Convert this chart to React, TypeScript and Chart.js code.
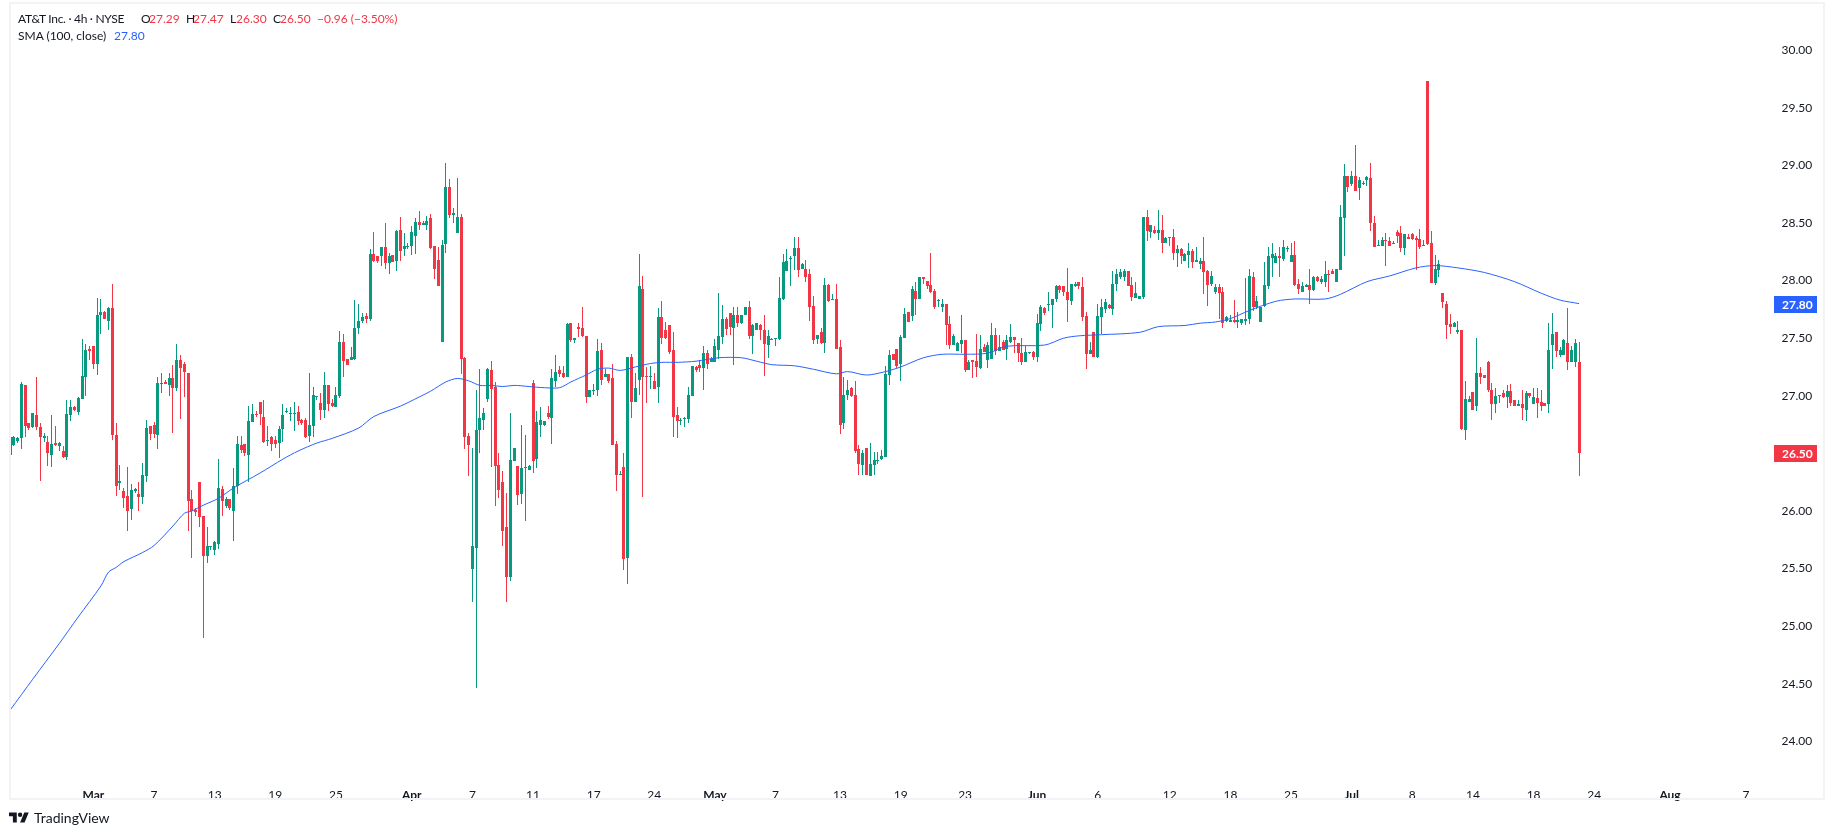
import { useEffect, useRef } from 'react'
import Chart from 'chart.js/auto'

// 4h candles
const opens = [
  26.49, 26.57, 26.61, 26.63, 27.09, 26.76, 26.73, 26.83, 26.73, 26.63, 26.60, 26.49, 26.59, 26.56, 26.52, 26.47, 26.83, 26.90, 26.86, 26.97,
  27.16, 27.41, 27.43, 27.28, 27.70, 27.73, 27.65, 27.76, 26.66, 26.24, 26.17, 26.13, 26.02, 26.17, 26.15, 26.12, 26.30, 26.74, 26.75, 26.66,
  27.10, 27.12, 27.09, 27.15, 27.07, 27.31, 27.28, 27.20, 26.10, 26.01, 26.25, 25.96, 25.61, 25.69, 25.66, 25.71, 26.19, 26.04, 26.10, 26.00,
  26.22, 26.57, 26.58, 26.49, 26.77, 26.84, 26.95, 26.82, 26.61, 26.64, 26.62, 26.59, 26.71, 26.86, 26.84, 26.84, 26.86, 26.79, 26.79, 26.65,
  26.74, 26.99, 26.94, 26.88, 27.09, 26.94, 26.90, 27.00, 27.47, 27.32, 27.31, 27.32, 27.59, 27.65, 27.69, 27.67, 28.23, 28.21, 28.21, 28.29,
  28.15, 28.22, 28.17, 28.44, 28.27, 28.29, 28.30, 28.39, 28.51, 28.48, 28.48, 28.54, 28.30, 28.18, 27.47, 28.32, 28.81, 28.57, 28.41, 28.55,
  27.33, 26.65, 25.50, 25.68, 26.70, 26.79, 26.97, 27.22, 27.08, 26.40, 26.25, 25.86, 25.43, 26.43, 26.39, 26.15, 26.37, 26.36, 27.11, 26.45,
  26.75, 26.75, 26.85, 26.81, 27.13, 27.22, 27.20, 27.16, 27.63, 27.48, 27.60, 27.59, 27.52, 26.99, 27.04, 27.05, 27.40, 27.16, 27.19, 27.15,
  26.58, 26.31, 26.38, 25.59, 27.34, 26.95, 27.14, 27.93, 27.17, 27.16, 27.13, 27.08, 27.68, 27.57, 27.61, 27.40, 26.83, 26.78, 26.80, 26.80,
  27.00, 27.25, 27.27, 27.24, 27.37, 27.29, 27.29, 27.40, 27.51, 27.67, 27.72, 27.59, 27.70, 27.63, 27.70, 27.77, 27.52, 27.57, 27.61, 27.57,
  27.44, 27.48, 27.49, 27.49, 27.84, 28.08, 28.19, 28.21, 28.28, 28.10, 28.10, 28.06, 27.78, 27.49, 27.55, 27.46, 27.96, 27.83, 27.84, 27.42,
  26.76, 27.01, 27.07, 27.01, 26.54, 26.40, 26.55, 26.30, 26.40, 26.43, 26.45, 26.47, 27.18, 27.36, 27.41, 27.28, 27.50, 27.73, 27.69, 27.91,
  27.84, 28.03, 28.00, 27.96, 27.91, 27.82, 27.77, 27.80, 27.62, 27.44, 27.39, 27.45, 27.48, 27.22, 27.31, 27.30, 27.24, 27.42, 27.31, 27.32,
  27.53, 27.39, 27.47, 27.41, 27.47, 27.51, 27.46, 27.37, 27.29, 27.37, 27.38, 27.34, 27.62, 27.76, 27.79, 27.79, 27.84, 27.95, 27.95, 27.90,
  27.82, 27.95, 27.99, 27.94, 27.69, 27.36, 27.55, 27.34, 27.68, 27.75, 27.79, 27.75, 27.97, 28.03, 28.03, 28.08, 27.96, 27.85, 27.84, 27.86,
  28.55, 28.42, 28.44, 28.41, 28.44, 28.33, 28.38, 28.38, 28.24, 28.27, 28.17, 28.22, 28.26, 28.16, 28.14, 28.17, 28.08, 27.97, 27.90, 27.94,
  27.90, 27.65, 27.64, 27.66, 27.64, 27.63, 27.65, 27.67, 28.03, 27.77, 27.64, 27.78, 27.95, 28.20, 28.15, 28.21, 28.19, 28.27, 28.16, 28.22,
  27.97, 27.90, 27.94, 27.96, 27.92, 28.03, 27.99, 27.99, 28.06, 28.08, 27.99, 28.09, 28.54, 28.91, 28.84, 28.91, 28.80, 28.84, 28.87, 28.89,
  28.50, 28.30, 28.30, 28.35, 28.34, 28.32, 28.42, 28.41, 28.28, 28.38, 28.40, 28.37, 28.36, 28.30, 29.73, 28.33, 27.98, 28.09, 27.89, 27.80,
  27.62, 27.60, 27.55, 27.57, 26.70, 26.95, 27.03, 26.91, 27.20, 27.18, 27.29, 27.05, 26.93, 27.00, 27.02, 26.99, 27.04, 26.96, 26.91, 26.93,
  26.88, 27.02, 26.93, 26.98, 26.95, 26.94, 26.93, 27.44, 27.55, 27.35, 27.35, 27.46, 27.29, 27.29, 27.29,
]
const highs = [
  26.72, 26.65, 26.64, 27.12, 27.09, 26.76, 26.85, 27.16, 26.76, 26.68, 26.65, 26.83, 26.74, 26.60, 26.56, 26.96, 26.96, 26.91, 26.99, 27.49,
  27.45, 27.43, 27.43, 27.85, 27.84, 27.74, 27.77, 27.97, 26.76, 26.40, 26.20, 26.38, 26.23, 26.20, 26.25, 26.42, 26.79, 26.74, 26.77, 27.16,
  27.20, 27.14, 27.20, 27.27, 27.45, 27.35, 27.29, 27.20, 26.18, 26.03, 26.25, 25.96, 25.86, 25.70, 25.74, 26.45, 26.22, 26.12, 26.10, 26.37,
  26.65, 26.65, 26.58, 26.91, 26.93, 26.87, 26.95, 26.96, 26.74, 26.65, 26.65, 26.74, 26.93, 26.89, 26.90, 26.95, 26.91, 26.80, 26.81, 27.20,
  27.08, 27.00, 27.02, 27.21, 27.09, 26.97, 27.08, 27.56, 27.54, 27.32, 27.42, 27.83, 27.80, 27.72, 27.72, 28.27, 28.42, 28.21, 28.29, 28.50,
  28.24, 28.22, 28.44, 28.55, 28.41, 28.33, 28.47, 28.54, 28.60, 28.52, 28.56, 28.58, 28.30, 28.29, 28.35, 29.02, 28.88, 28.63, 28.89, 28.58,
  27.34, 26.68, 26.55, 27.05, 27.23, 26.89, 27.24, 27.30, 27.12, 26.50, 26.35, 26.16, 26.85, 26.55, 26.39, 26.75, 26.66, 26.40, 27.14, 26.87,
  26.90, 26.78, 26.91, 27.23, 27.35, 27.26, 27.26, 27.63, 27.63, 27.50, 27.63, 27.77, 27.52, 27.05, 27.10, 27.49, 27.46, 27.23, 27.19, 27.28,
  26.61, 26.35, 26.50, 27.34, 27.36, 27.20, 28.23, 28.04, 27.25, 27.26, 27.20, 27.76, 27.82, 27.64, 27.61, 27.55, 26.90, 26.81, 26.82, 27.08,
  27.26, 27.26, 27.31, 27.43, 27.40, 27.34, 27.49, 27.89, 27.79, 27.68, 27.72, 27.77, 27.77, 27.70, 27.77, 27.82, 27.62, 27.63, 27.62, 27.70,
  27.57, 27.50, 27.50, 28.03, 28.23, 28.27, 28.21, 28.38, 28.38, 28.15, 28.18, 28.10, 27.87, 27.53, 27.59, 28.02, 27.97, 27.88, 27.97, 27.48,
  27.16, 27.14, 27.08, 27.13, 26.57, 26.53, 26.55, 26.59, 26.51, 26.51, 26.53, 27.26, 27.40, 27.36, 27.41, 27.53, 27.76, 27.73, 27.95, 27.99,
  28.03, 28.03, 28.00, 28.24, 27.93, 27.84, 27.84, 27.80, 27.69, 27.54, 27.47, 27.70, 27.48, 27.31, 27.31, 27.54, 27.53, 27.45, 27.47, 27.63,
  27.59, 27.53, 27.48, 27.53, 27.62, 27.51, 27.46, 27.50, 27.43, 27.38, 27.39, 27.71, 27.79, 27.77, 27.90, 27.84, 27.96, 27.96, 27.95, 28.11,
  27.97, 27.99, 27.99, 28.03, 27.73, 27.47, 27.55, 27.80, 27.84, 27.84, 27.80, 28.08, 28.10, 28.10, 28.10, 28.08, 28.03, 27.99, 27.87, 28.55,
  28.61, 28.48, 28.47, 28.61, 28.57, 28.38, 28.38, 28.45, 28.31, 28.28, 28.24, 28.33, 28.27, 28.29, 28.20, 28.38, 28.09, 28.08, 27.97, 27.97,
  27.94, 27.69, 27.70, 27.83, 27.73, 27.67, 28.02, 28.10, 28.07, 27.87, 27.77, 28.16, 28.29, 28.33, 28.24, 28.29, 28.35, 28.30, 28.33, 28.34,
  28.01, 27.99, 27.97, 28.10, 28.04, 28.04, 28.04, 28.17, 28.09, 28.10, 28.10, 28.66, 29.01, 28.91, 28.95, 29.18, 28.90, 28.86, 28.91, 29.02,
  28.56, 28.35, 28.38, 28.41, 28.38, 28.34, 28.44, 28.47, 28.40, 28.40, 28.41, 28.39, 28.45, 28.35, 29.73, 28.43, 28.22, 28.18, 27.89, 27.82,
  27.71, 27.64, 27.65, 27.57, 27.13, 27.00, 27.03, 27.50, 27.25, 27.18, 27.30, 27.11, 27.07, 27.01, 27.05, 27.09, 27.10, 26.96, 26.96, 27.05,
  27.04, 27.02, 27.07, 27.07, 27.05, 26.94, 27.63, 27.72, 27.55, 27.42, 27.49, 27.76, 27.43, 27.49, 27.47,
]
const lows = [
  26.45, 26.56, 26.59, 26.54, 26.64, 26.70, 26.72, 26.70, 26.26, 26.60, 26.39, 26.38, 26.56, 26.52, 26.46, 26.44, 26.78, 26.87, 26.83, 26.97,
  27.00, 27.31, 27.23, 27.18, 27.54, 27.67, 27.57, 26.62, 26.13, 26.18, 26.03, 25.83, 25.92, 26.16, 26.00, 26.06, 26.25, 26.62, 26.63, 26.54,
  27.02, 27.10, 27.00, 26.68, 27.04, 26.80, 26.99, 25.83, 25.59, 25.96, 25.86, 24.90, 25.55, 25.66, 25.62, 25.67, 25.96, 26.03, 26.01, 25.74,
  26.15, 26.50, 26.48, 26.25, 26.77, 26.82, 26.75, 26.59, 26.56, 26.52, 26.55, 26.46, 26.60, 26.85, 26.78, 26.69, 26.75, 26.75, 26.63, 26.60,
  26.64, 26.96, 26.79, 26.81, 26.87, 26.90, 26.90, 26.98, 27.16, 27.27, 27.31, 27.31, 27.54, 27.63, 27.63, 27.65, 28.16, 28.15, 28.13, 28.10,
  28.06, 28.16, 28.08, 28.17, 28.21, 28.27, 28.22, 28.23, 28.44, 28.48, 28.44, 28.27, 28.01, 27.95, 27.47, 28.24, 28.54, 28.50, 28.41, 27.19,
  26.54, 26.30, 25.21, 24.46, 26.50, 26.70, 26.95, 26.38, 26.04, 26.11, 25.70, 25.21, 25.39, 26.43, 26.05, 26.06, 25.91, 26.36, 26.33, 26.37,
  26.64, 26.74, 26.80, 26.58, 27.08, 27.16, 27.15, 27.16, 27.47, 27.46, 27.51, 27.51, 26.94, 26.99, 27.01, 27.00, 27.09, 27.16, 27.11, 26.57,
  26.17, 26.31, 25.49, 25.37, 26.81, 26.95, 27.01, 26.12, 26.94, 27.06, 27.06, 26.94, 27.45, 27.49, 27.36, 26.64, 26.63, 26.75, 26.73, 26.76,
  27.00, 27.21, 27.21, 27.05, 27.23, 27.29, 27.29, 27.32, 27.45, 27.53, 27.53, 27.27, 27.60, 27.62, 27.70, 27.49, 27.36, 27.57, 27.48, 27.17,
  27.33, 27.48, 27.43, 27.48, 27.83, 28.08, 27.95, 28.09, 28.03, 28.10, 27.99, 27.65, 27.45, 27.45, 27.45, 27.37, 27.81, 27.83, 27.41, 26.67,
  26.71, 26.96, 26.99, 26.50, 26.31, 26.31, 26.31, 26.30, 26.31, 26.41, 26.44, 26.47, 27.09, 27.31, 27.24, 27.13, 27.50, 27.64, 27.65, 27.70,
  27.84, 27.97, 27.93, 27.89, 27.75, 27.77, 27.73, 27.44, 27.41, 27.44, 27.39, 27.37, 27.21, 27.22, 27.15, 27.16, 27.23, 27.38, 27.24, 27.32,
  27.35, 27.39, 27.40, 27.31, 27.46, 27.37, 27.29, 27.27, 27.29, 27.36, 27.31, 27.29, 27.56, 27.70, 27.74, 27.59, 27.81, 27.89, 27.87, 27.64,
  27.79, 27.94, 27.93, 27.65, 27.23, 27.36, 27.34, 27.33, 27.54, 27.72, 27.75, 27.70, 27.91, 28.01, 28.00, 27.95, 27.82, 27.85, 27.84, 27.84,
  28.34, 28.37, 28.40, 28.35, 28.24, 28.33, 28.30, 28.18, 28.12, 28.14, 28.17, 28.11, 28.11, 28.16, 28.10, 27.88, 27.78, 27.95, 27.88, 27.67,
  27.59, 27.64, 27.64, 27.63, 27.59, 27.61, 27.61, 27.62, 27.74, 27.75, 27.64, 27.77, 27.93, 28.03, 28.15, 28.03, 28.17, 28.25, 28.16, 27.95,
  27.88, 27.90, 27.94, 27.80, 27.91, 27.99, 27.97, 27.94, 27.90, 28.06, 27.99, 28.09, 28.21, 28.77, 28.82, 28.78, 28.70, 28.83, 28.82, 28.43,
  28.29, 28.30, 28.30, 28.13, 28.30, 28.32, 28.33, 28.25, 28.22, 28.36, 28.35, 28.09, 28.27, 28.30, 28.31, 27.98, 27.96, 28.03, 27.76, 27.49,
  27.54, 27.60, 27.54, 26.70, 26.62, 26.95, 26.88, 26.87, 27.10, 27.15, 27.03, 26.79, 26.85, 26.94, 26.98, 26.89, 26.91, 26.91, 26.91, 26.79,
  26.78, 26.98, 26.93, 26.81, 26.87, 26.91, 26.85, 27.23, 27.34, 27.34, 27.35, 27.22, 27.29, 27.25, 26.30,
]
const closes = [
  26.64, 26.64, 26.63, 27.10, 26.74, 26.72, 26.85, 26.73, 26.64, 26.65, 26.50, 26.58, 26.57, 26.59, 26.47, 26.84, 26.90, 26.88, 26.98, 27.17,
  27.40, 27.39, 27.28, 27.70, 27.73, 27.67, 27.76, 26.66, 26.22, 26.26, 26.11, 26.00, 26.18, 26.19, 26.12, 26.31, 26.72, 26.67, 26.67, 27.11,
  27.11, 27.10, 27.15, 27.07, 27.31, 27.24, 27.21, 26.09, 26.00, 25.99, 25.95, 25.61, 25.70, 25.70, 25.73, 26.20, 26.09, 26.10, 26.03, 26.22,
  26.58, 26.53, 26.50, 26.78, 26.84, 26.83, 26.84, 26.60, 26.62, 26.58, 26.58, 26.71, 26.83, 26.87, 26.85, 26.85, 26.78, 26.76, 26.64, 26.75,
  27.01, 27.00, 26.88, 27.09, 26.93, 26.91, 27.01, 27.47, 27.30, 27.27, 27.34, 27.59, 27.65, 27.68, 27.67, 28.23, 28.17, 28.17, 28.29, 28.15,
  28.21, 28.16, 28.43, 28.26, 28.30, 28.30, 28.42, 28.51, 28.48, 28.50, 28.52, 28.28, 28.10, 27.95, 28.31, 28.81, 28.57, 28.59, 28.55, 27.32,
  26.64, 26.57, 25.70, 26.70, 26.81, 26.85, 27.23, 27.06, 26.39, 26.18, 25.83, 25.43, 26.44, 26.55, 26.14, 26.37, 26.38, 26.39, 26.43, 26.77,
  26.79, 26.78, 26.82, 27.15, 27.21, 27.19, 27.16, 27.62, 27.48, 27.50, 27.58, 27.52, 26.99, 27.05, 27.05, 27.39, 27.14, 27.19, 27.13, 26.57,
  26.31, 26.32, 25.58, 27.34, 26.95, 27.07, 27.95, 27.16, 27.16, 27.17, 27.06, 27.68, 27.50, 27.50, 27.38, 26.82, 26.78, 26.79, 26.81, 27.01,
  27.26, 27.22, 27.24, 27.37, 27.28, 27.32, 27.43, 27.52, 27.67, 27.58, 27.60, 27.70, 27.63, 27.70, 27.77, 27.52, 27.61, 27.63, 27.57, 27.45,
  27.52, 27.49, 27.50, 27.85, 28.16, 28.17, 28.20, 28.28, 28.09, 28.14, 28.03, 27.77, 27.48, 27.53, 27.46, 27.96, 27.82, 27.84, 27.41, 26.75,
  27.01, 27.05, 27.00, 26.52, 26.41, 26.50, 26.31, 26.41, 26.44, 26.44, 26.48, 27.19, 27.35, 27.31, 27.26, 27.51, 27.71, 27.64, 27.93, 27.84,
  28.03, 28.01, 27.95, 27.90, 27.77, 27.83, 27.80, 27.61, 27.44, 27.52, 27.46, 27.48, 27.22, 27.29, 27.29, 27.25, 27.41, 27.38, 27.44, 27.53,
  27.39, 27.42, 27.40, 27.48, 27.51, 27.48, 27.37, 27.29, 27.38, 27.38, 27.34, 27.63, 27.77, 27.72, 27.80, 27.84, 27.95, 27.92, 27.90, 27.83,
  27.97, 27.97, 27.95, 27.68, 27.36, 27.40, 27.34, 27.69, 27.77, 27.81, 27.76, 27.97, 28.06, 28.07, 28.08, 27.95, 27.86, 27.89, 27.87, 28.55,
  28.43, 28.48, 28.41, 28.44, 28.33, 28.37, 28.37, 28.24, 28.27, 28.21, 28.23, 28.26, 28.16, 28.18, 28.17, 28.07, 27.96, 28.04, 27.94, 27.89,
  27.63, 27.68, 27.66, 27.64, 27.66, 27.67, 27.67, 28.04, 27.77, 27.82, 27.77, 27.96, 28.21, 28.23, 28.21, 28.20, 28.29, 28.28, 28.22, 27.96,
  27.93, 27.95, 27.96, 27.92, 28.03, 28.00, 28.01, 28.06, 28.05, 28.06, 28.10, 28.55, 28.91, 28.81, 28.91, 28.78, 28.87, 28.85, 28.90, 28.50,
  28.29, 28.31, 28.35, 28.34, 28.30, 28.33, 28.39, 28.28, 28.40, 28.36, 28.36, 28.35, 28.29, 28.31, 28.32, 27.98, 28.10, 28.14, 27.81, 27.61,
  27.60, 27.63, 27.57, 26.71, 26.97, 26.97, 26.88, 27.20, 27.16, 27.15, 27.05, 26.93, 27.00, 27.01, 26.99, 27.04, 26.94, 26.91, 26.93, 26.89,
  27.02, 27.00, 26.99, 26.94, 26.91, 26.91, 27.40, 27.54, 27.39, 27.40, 27.48, 27.29, 27.40, 27.46, 26.50,
]

// SMA (100, close) read at these candles
const smaIndex = [
  0, 6, 13, 18, 24, 26, 28, 30, 35, 38, 43, 46, 48, 51, 55, 59, 66, 72, 76, 81, 85, 92, 96, 103, 108, 111, 115, 118, 121, 124,
  127, 130, 133, 137, 141, 145, 148, 152, 155, 158, 161, 165, 169, 172, 176, 181, 187, 193, 197, 201, 207, 212, 218, 221, 226, 231, 235, 241, 246, 252,
  258, 263, 273, 278, 282, 288, 298, 303, 310, 314, 318, 322, 327, 334, 339, 347, 351, 358, 364, 371, 376, 382, 389, 397, 404, 409, 414,
]
const smaValues = [
  24.27, 24.54, 24.85, 25.08, 25.35, 25.47, 25.51, 25.56, 25.64, 25.70, 25.87, 25.98, 26.00, 26.05, 26.11, 26.20, 26.33, 26.45, 26.52, 26.59, 26.63, 26.72, 26.82, 26.91, 26.99, 27.04, 27.12, 27.15, 27.13, 27.09,
  27.09, 27.08, 27.09, 27.08, 27.07, 27.07, 27.12, 27.18, 27.23, 27.24, 27.22, 27.25, 27.28, 27.29, 27.29, 27.30, 27.33, 27.33, 27.30, 27.27, 27.26, 27.23, 27.19, 27.21, 27.18, 27.21, 27.25, 27.33, 27.36, 27.36,
  27.37, 27.43, 27.44, 27.50, 27.52, 27.53, 27.55, 27.60, 27.61, 27.63, 27.64, 27.67, 27.74, 27.82, 27.84, 27.84, 27.88, 27.99, 28.04, 28.11, 28.13, 28.11, 28.07, 27.99, 27.89, 27.83, 27.80,
]

const tickIndex = [22, 38, 54, 70, 86, 106, 122, 138, 154, 170, 186, 202, 219, 235, 252, 271, 287, 306, 322, 338, 354, 370, 386, 402, 418, 438, 458]
const tickLabels = ['Mar', '7', '13', '19', '25', 'Apr', '7', '11', '17', '24', 'May', '7', '13', '19', '23', 'Jun', '6', '12', '18', '25', 'Jul', '8', '14', '18', '24', 'Aug', '7']
const monthLabels = ['Mar', 'Apr', 'May', 'Jun', 'Jul', 'Aug']

const SLOTS = 465 // candles plus the empty space on the right
const UP = '#089981'
const DOWN = '#F23645'
const BLUE = '#2962FF'
const INK = '#131722'
const FONT = 'Lato, sans-serif'

// candles are snapped to whole pixels, like the original
const snapBars = {
  id: 'snapBars',
  beforeDatasetsDraw(chart: any) {
    chart.getSortedVisibleDatasetMetas().forEach((meta: any) => {
      if (meta.type !== 'bar') return
      meta.data.forEach((el: any) => {
        el.x = Math.floor(el.x) + 0.5
        el.y = Math.round(el.y)
        el.base = Math.round(el.base)
        if (el.y === el.base) el.base = el.y + 1
      })
    })
  },
}

const priceTags = {
  id: 'priceTags',
  afterDraw(chart: any) {
    const { ctx, scales } = chart
    const tags = [
      { value: smaValues[smaValues.length - 1], color: BLUE },
      { value: closes[closes.length - 1], color: DOWN },
    ]
    ctx.save()
    ctx.font = `700 12px ${FONT}`
    ctx.textAlign = 'left'
    ctx.textBaseline = 'middle'
    tags.forEach((tag) => {
      const y = Math.round(scales.y.getPixelForValue(tag.value))
      ctx.fillStyle = tag.color
      ctx.fillRect(1774, y - 8, 43, 17)
      ctx.fillStyle = '#ffffff'
      ctx.fillText(tag.value.toFixed(2), 1782, y + 1)
    })
    ctx.restore()
  },
}

const headerLine = [
  { left: 18, text: 'AT&T Inc. · 4h · NYSE', color: INK },
  { left: 141, text: 'O', color: INK },
  { left: 149, text: '27.29', color: DOWN },
  { left: 186, text: 'H', color: INK },
  { left: 193, text: '27.47', color: DOWN },
  { left: 230, text: 'L', color: INK },
  { left: 236, text: '26.30', color: DOWN },
  { left: 273, text: 'C', color: INK },
  { left: 280, text: '26.50', color: DOWN },
  { left: 317, text: '−0.96 (−3.50%)', color: DOWN },
]
const smaLine = [
  { left: 18, text: 'SMA (100, close)', color: INK },
  { left: 114, text: '27.80', color: BLUE },
]

const App = () => {
  const chartRef = useRef<HTMLCanvasElement>(null)

  useEffect(() => {
    if (!chartRef.current) return
    const labels = Array.from({ length: SLOTS }, (_, i) => String(i))
    const sma: (number | null)[] = labels.map(() => null)
    smaIndex.forEach((idx, i) => {
      sma[idx] = smaValues[i]
    })
    const candleColors = closes.map((c, i) => (c >= opens[i] ? UP : DOWN))

    const chart = new Chart(chartRef.current, {
      type: 'bar',
      data: {
        labels,
        datasets: [
          {
            type: 'line',
            label: 'SMA',
            data: sma,
            borderColor: BLUE,
            borderWidth: 1,
            pointRadius: 0,
            spanGaps: true,
            tension: 0.3,
            order: 0,
          },
          {
            label: 'Body',
            data: opens.map((o, i) => [o, closes[i]]),
            backgroundColor: candleColors,
            borderWidth: 0,
            barThickness: 3,
            grouped: false,
            inflateAmount: 0,
            order: 1,
          },
          {
            label: 'Wick',
            data: lows.map((l, i) => [l, highs[i]]),
            backgroundColor: candleColors,
            borderWidth: 0,
            barThickness: 1,
            grouped: false,
            inflateAmount: 0,
            order: 2,
          },
        ] as any,
      },
      options: {
        responsive: false,
        animation: false,
        events: [],
        layout: { autoPadding: false, padding: { left: 10, top: 4, right: 0, bottom: 0 } },
        plugins: { legend: { display: false }, tooltip: { enabled: false } },
        scales: {
          x: {
            offset: false,
            grid: { display: false },
            border: { display: false },
            afterFit: (scale: any) => {
              scale.height = 65
            },
            ticks: {
              autoSkip: false,
              maxRotation: 0,
              padding: 10,
              color: INK,
              font: (ctx: any) => ({
                family: FONT,
                size: 12,
                weight: monthLabels.includes(tickLabels[tickIndex.indexOf(ctx.index)]) ? 700 : 400,
              }),
              callback: (_v: any, i: number) => {
                const at = tickIndex.indexOf(i)
                return at >= 0 ? tickLabels[at] : ''
              },
            },
          },
          y: {
            position: 'right',
            min: 23.752,
            max: 30.329,
            grid: { display: false },
            border: { display: false },
            afterFit: (scale: any) => {
              scale.width = 66.4
            },
            ticks: {
              stepSize: 0.5,
              includeBounds: false,
              padding: 5,
              color: INK,
              font: { family: FONT, size: 12 },
              // the last close sits in its own tag
              callback: (v: any) => (Number(v) === closes[closes.length - 1] ? '' : Number(v).toFixed(2)),
            },
          },
        },
      },
      plugins: [snapBars, priceTags],
    } as any)

    return () => {
      chart.destroy()
    }
  }, [])

  const textStyle = (left: number, top: number, color: string) => ({
    position: 'absolute' as const,
    left,
    top,
    color,
    font: `12px ${FONT}`,
    lineHeight: '18px',
    whiteSpace: 'pre' as const,
  })

  return (
    <div style={{ position: 'absolute', left: 0, top: 0, width: 1835, height: 835, background: '#fff', overflow: 'hidden' }}>
      <canvas ref={chartRef} width={1835} height={835} style={{ display: 'block', position: 'absolute', left: 0, top: 0 }} />
      <div style={{ position: 'absolute', left: 9, top: 2, width: 1816, height: 798, border: '2px solid #f2f3f5', boxSizing: 'border-box', pointerEvents: 'none' }} />
      {headerLine.map((s) => (
        <span key={s.left} style={{ ...textStyle(s.left, 10, s.color), letterSpacing: s.left === 18 ? -0.3 : 0 }}>{s.text}</span>
      ))}
      {smaLine.map((s) => (
        <span key={s.left} style={textStyle(s.left, 27, s.color)}>{s.text}</span>
      ))}
      <svg width="20" height="16" viewBox="0 0 36 28" style={{ position: 'absolute', left: 9, top: 810 }}>
        <path d="M14 22H7V11H0V4h14v18zM28 22h-8l7.5-18h8L28 22z" fill={INK} />
        <circle cx="20" cy="8" r="4" fill={INK} />
      </svg>
      <span style={{ ...textStyle(34, 809, INK), fontSize: 14 }}>TradingView</span>
    </div>
  )
}

export default App
